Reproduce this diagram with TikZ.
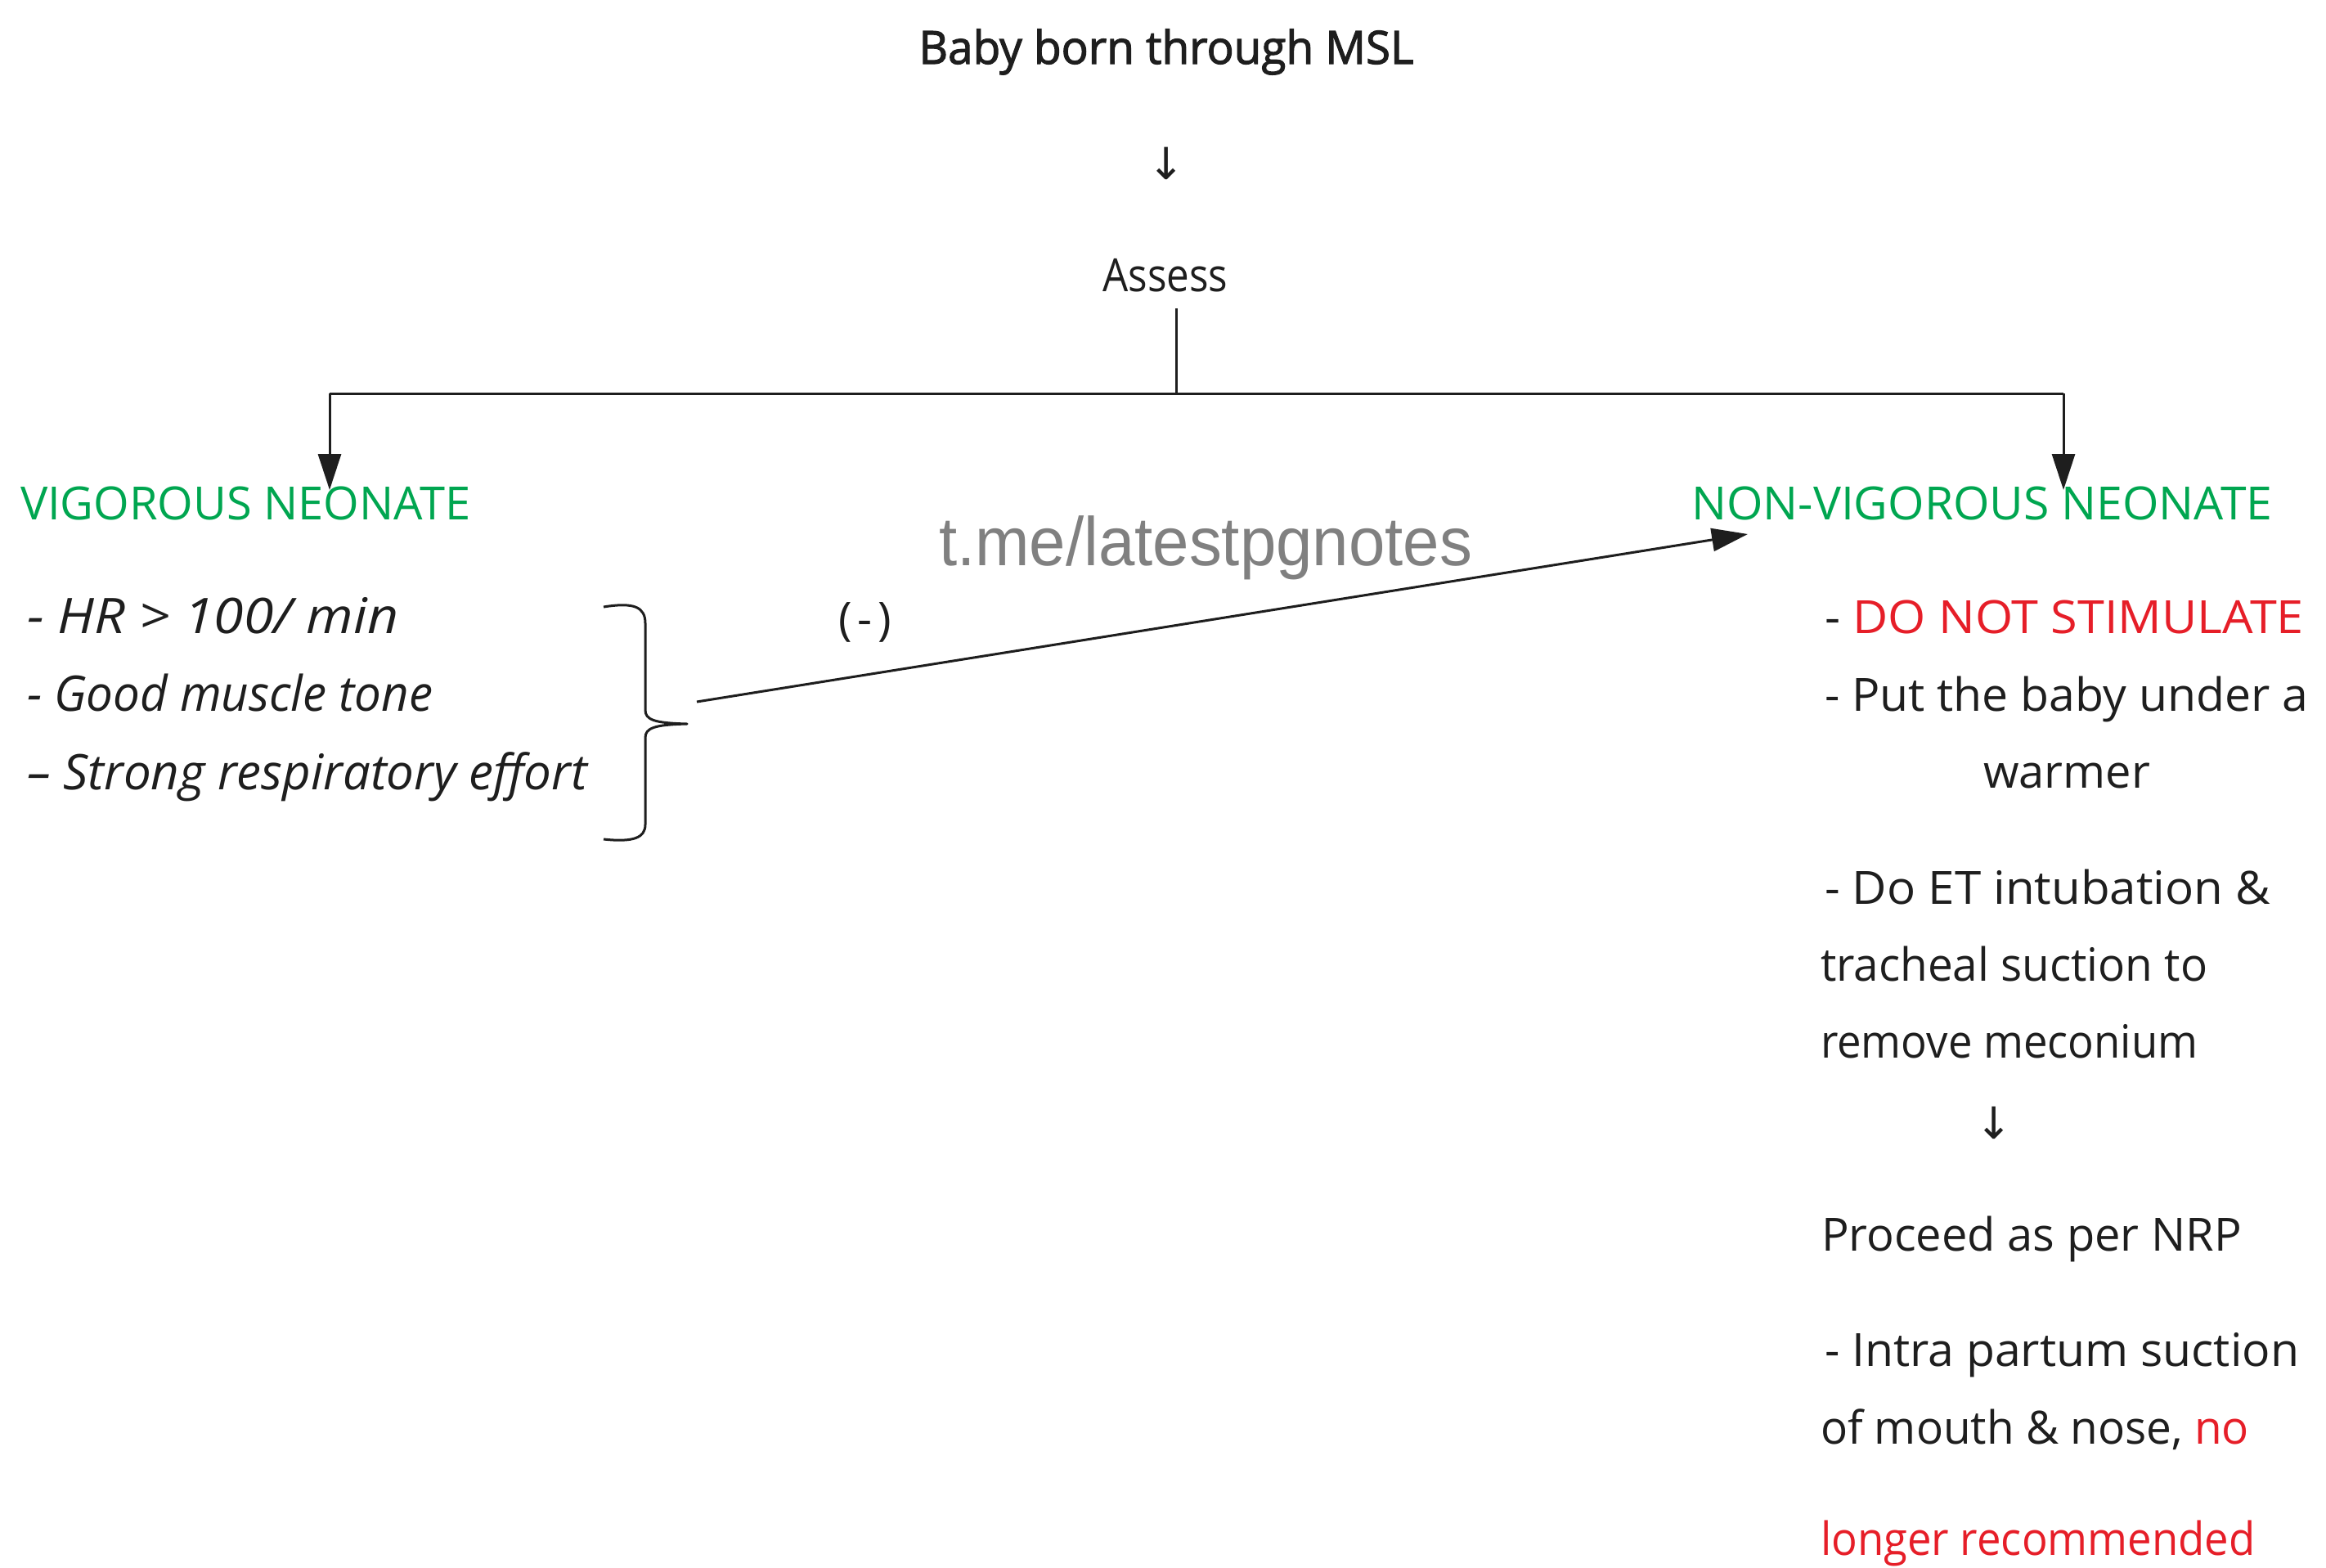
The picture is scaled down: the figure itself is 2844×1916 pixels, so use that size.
\documentclass[tikz,border=0pt]{standalone}
\usepackage{fontspec}
\usetikzlibrary{arrows.meta}
\setmainfont{Open Sans}
\newfontface\titlefont{Open Sans}[FakeBold=2]
\newfontfamily\wmfont{Liberation Sans}
\newfontfamily\symfont{DejaVu Sans}
\definecolor{ngreen}{RGB}{0,166,80}
\definecolor{nred}{RGB}{230,30,40}
\definecolor{ink}{RGB}{30,30,30}
\begin{document}
\begin{tikzpicture}[x=1pt,y=-1pt,
  every node/.style={inner sep=0pt,outer sep=0pt},
  txt/.style={font=\fontsize{56}{60}\selectfont,text=ink,anchor=base west},
  ltxt/.style={font=\fontsize{60}{64}\selectfont\itshape,text=ink,anchor=base west},
  head/.style={font=\fontsize{56}{60}\selectfont,text=ngreen,anchor=base west},
  sym/.style={font=\symfont\fontsize{54}{60}\selectfont,text=ink},
  conn/.style={line width=3pt,draw=ink},
  tipped/.style={-{Triangle[length=44pt,width=28pt]}}]
\useasboundingbox (0,0) rectangle (2844,1916);
\fill[white] (0,0) rectangle (2844,1916);

% top
\node[font=\titlefont\fontsize{56}{60}\selectfont,text=ink,anchor=base,xscale=0.98] (title) at (1426,78) {Baby born through MSL};
\node[sym] (arr1) at (1426,200) {↓};
\node[font=\fontsize{56}{60}\selectfont,text=ink,anchor=base,xscale=0.88] (assess) at (1425,356) {Assess};

% tree lines
\coordinate (hub) at (1438,481);
\coordinate (lt) at (403,481);
\coordinate (rt) at (2523,481);
\coordinate (ltend) at (403,599);
\coordinate (rtend) at (2523,599);
\draw[conn] (1438,377) -- (hub);
\draw[conn] (lt) -- (rt);
\draw[conn,tipped] (lt) -- (ltend);
\draw[conn,tipped] (rt) -- (rtend);

% headings
\node[head] (vig) at (25,635) {VIGOROUS NEONATE};
\node[head,xscale=1.02] (nonvig) at (2068,635) {NON-VIGOROUS NEONATE};

% watermark
\node[font=\wmfont\fontsize{84}{90}\selectfont,text=black!50,anchor=base west,xscale=0.95] (wm) at (1148,691) {t.me/latestpgnotes};

% left items
\node[ltxt,xscale=1.1] (l1) at (33,774) {- HR > 100/ min};
\node[ltxt,xscale=0.97] (l2) at (33,869) {- Good muscle tone};
\node[ltxt] (l3) at (33,965) {– Strong respiratory effort};

% brace
\draw[line width=3pt,draw=ink,line join=round]
  (738,742) .. controls (775,736) and (789,742) .. (789,762)
  -- (789,868) .. controls (789,880) and (800,884) .. (840,885)
  .. controls (800,886) and (789,890) .. (789,902)
  -- (789,1008) .. controls (789,1024) and (775,1030) .. (738,1026);
\coordinate (bracetip) at (852,858);
\coordinate (nvtip) at (2137,653);
\draw[conn,tipped] (bracetip) -- (nvtip);
\node[font=\fontsize{56}{60}\selectfont,text=ink,anchor=base west] (neg) at (1025,776) {(\kern7pt-\kern7pt)};

% right items
\node[txt,xscale=1.06] (r1) at (2231,774) {- \textcolor{nred}{DO NOT STIMULATE}};
\node[txt,xscale=1.02] (r2) at (2231,869) {- Put the baby under a};
\node[font=\fontsize{56}{60}\selectfont,text=ink,anchor=base] (r3) at (2527,963) {warmer};
\node[txt,xscale=1.04] (r4) at (2231,1105) {- Do ET intubation \&};
\node[txt,xscale=0.98] (r5) at (2226,1199) {tracheal suction to};
\node[txt,xscale=0.94] (r6) at (2226,1293) {remove meconium};
\node[sym] (arr2) at (2438,1373) {↓};
\node[txt] (r7) at (2227,1529) {Proceed as per NRP};
\node[txt,xscale=1.02] (r8) at (2231,1670) {- Intra partum suction};
\node[txt,xscale=0.98] (r9) at (2226,1765) {of mouth \& nose, \textcolor{nred}{no}};
\node[txt,text=nred,xscale=0.94] (r10) at (2226,1901) {longer recommended};
\end{tikzpicture}
\end{document}
